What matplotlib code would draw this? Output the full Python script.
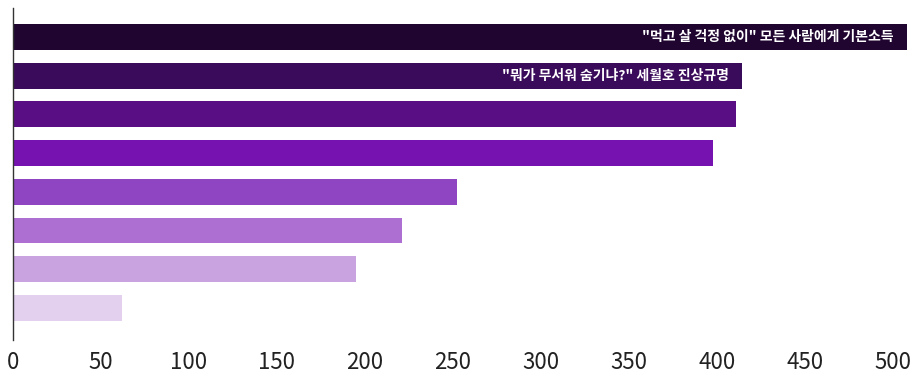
import matplotlib
matplotlib.use("Agg")
import matplotlib.pyplot as plt

plt.rcParams['font.family'] = ['Noto Sans CJK KR', 'DejaVu Sans']

labels = ['"먹고 살 걱정 없이" 모든 사람에게 기본소득',
          '"뭐가 무서워 숨기냐?" 세월호 진상규명',
          '', '', '', '', '', '']
values = [508, 414, 411, 398, 252, 221, 195, 62]
colors = ['#1f0530', '#3b0b5b', '#5a0e84', '#7613b0', '#8f45c1',
          '#ad70d2', '#c9a2e0', '#e3d0ef']
xticks = [0, 50, 100, 150, 200, 250, 300, 350, 400, 450, 500]

fig = plt.figure(figsize=(9.17, 3.76), dpi=100)
ax = fig.add_axes([13/917, (376-340)/376, 904/917, 332/376])
pos = list(range(len(values)))
ax.barh(pos, values, height=0.67, color=colors)
for p, v, lab in zip(pos, values, labels):
    if lab:
        ax.text(v - 7.5, p, lab, ha='right', va='center', color='white',
                fontsize=10, fontweight='bold')
ax.set_xlim(0, 904/1.76)
ax.set_ylim(7.83, -0.75)
ax.set_xticks(xticks)
ax.set_xticklabels([str(t) for t in xticks], fontsize=16, color='#222222')
ax.set_yticks([])
ax.tick_params(axis='x', length=0, pad=8)
for s in ['top', 'right', 'bottom']:
    ax.spines[s].set_visible(False)
ax.spines['left'].set_color('#333333')
ax.spines['left'].set_linewidth(1)
fig.savefig('out.png', dpi=100)
